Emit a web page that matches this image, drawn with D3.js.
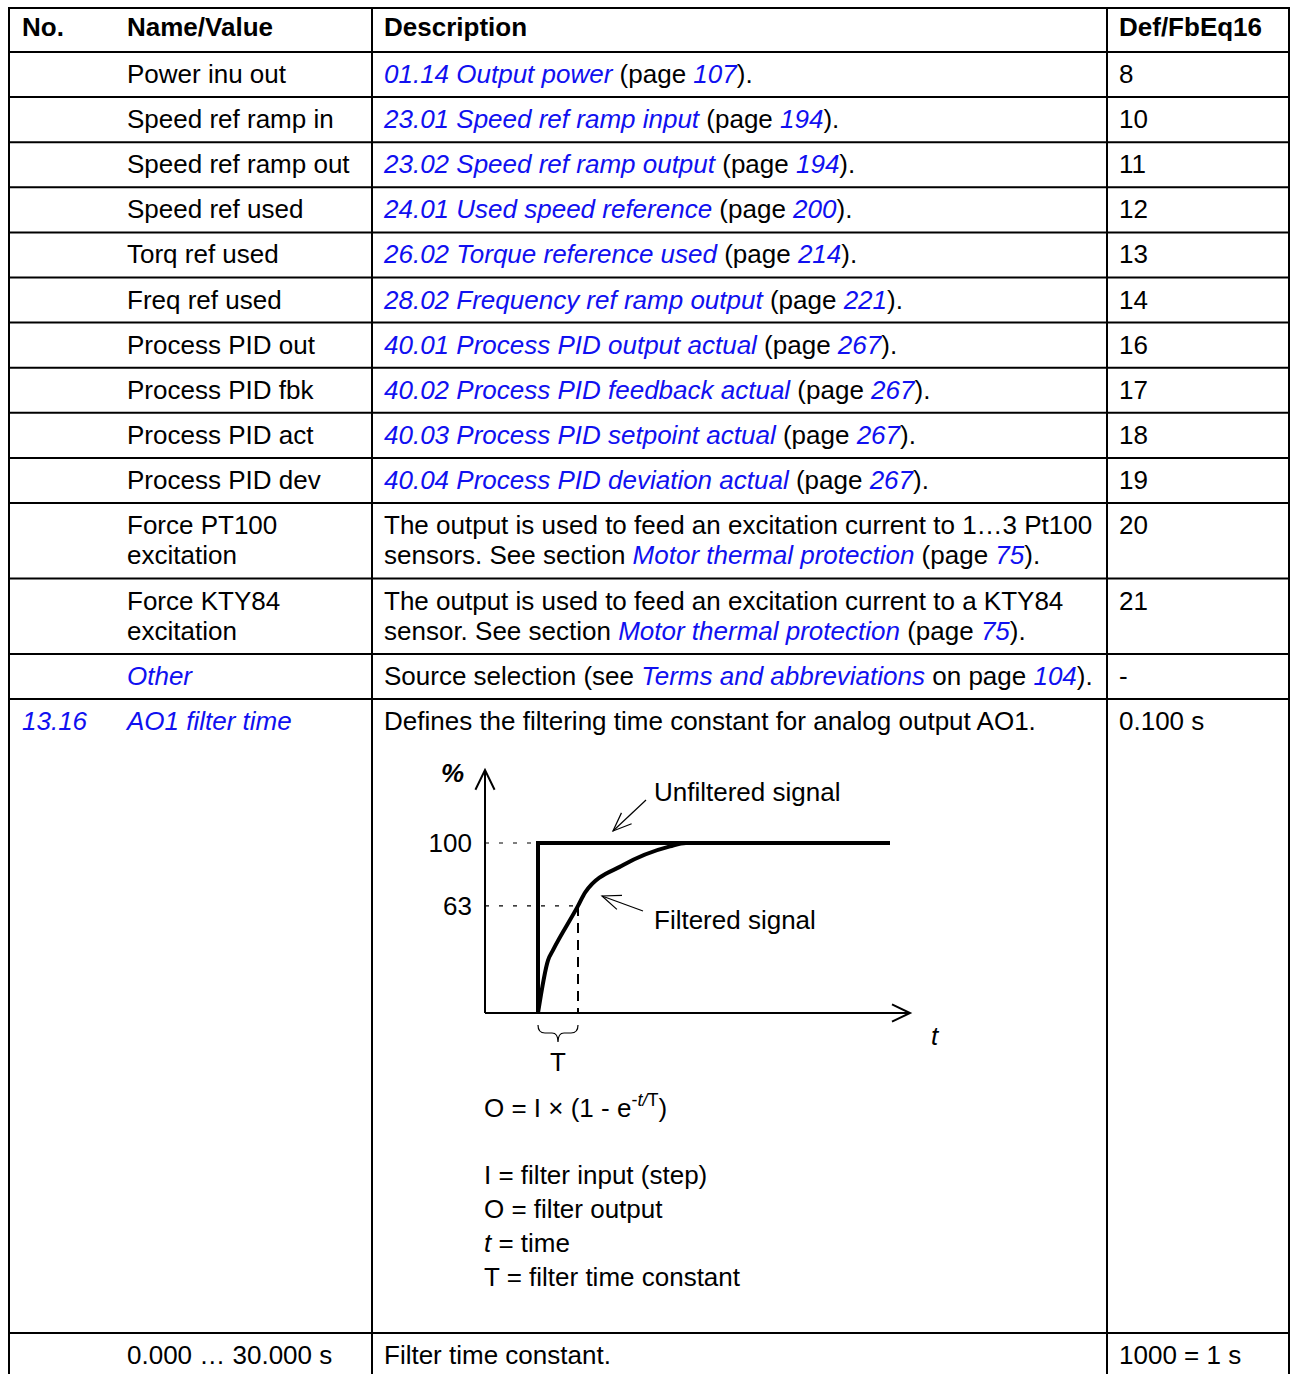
<!DOCTYPE html>
<html lang="en">
<head>
<meta charset="utf-8">
<title>AO1 filter time</title>
<script src="https://cdn.jsdelivr.net/npm/d3@7"></script>
<style>
  body { margin: 0; background: #fff; }
  svg text { font-family: "Liberation Sans", Arial, sans-serif; font-size: 26px; fill: #000; }
  .grid { stroke: #000; stroke-width: 2; }
  .link { fill: #1010f0; font-style: italic; }
</style>
</head>
<body>
<script>
// table content (*...* = blue italic cross reference, | = line break)
var headers = ["No.", "Name/Value", "Description", "Def/FbEq16"];
var numbers = ["", "", "", "", "", "", "", "", "", "", "", "", "", "*13.16*", ""];
var names = ["Power inu out", "Speed ref ramp in", "Speed ref ramp out", "Speed ref used",
  "Torq ref used", "Freq ref used", "Process PID out", "Process PID fbk", "Process PID act",
  "Process PID dev", "Force PT100|excitation", "Force KTY84|excitation", "*Other*",
  "*AO1 filter time*", "0.000 … 30.000 s"];
var descriptions = [
  "*01.14 Output power* (page *107*).",
  "*23.01 Speed ref ramp input* (page *194*).",
  "*23.02 Speed ref ramp output* (page *194*).",
  "*24.01 Used speed reference* (page *200*).",
  "*26.02 Torque reference used* (page *214*).",
  "*28.02 Frequency ref ramp output* (page *221*).",
  "*40.01 Process PID output actual* (page *267*).",
  "*40.02 Process PID feedback actual* (page *267*).",
  "*40.03 Process PID setpoint actual* (page *267*).",
  "*40.04 Process PID deviation actual* (page *267*).",
  "The output is used to feed an excitation current to 1…3 Pt100|sensors. See section *Motor thermal protection* (page *75*).",
  "The output is used to feed an excitation current to a KTY84|sensor. See section *Motor thermal protection* (page *75*).",
  "Source selection (see *Terms and abbreviations* on page *104*).",
  "Defines the filtering time constant for analog output AO1.",
  "Filter time constant."];
var defs = ["8", "10", "11", "12", "13", "14", "16", "17", "18", "19", "20", "21", "-", "0.100 s", "1000 = 1 s"];

// diagram data: time in units of T, output in %
var filteredT   = [0, 0.25, 0.375, 1.0, 1.18, 2.13, 3.3, 3.7, 5.0];
var filteredPct = [0, 31,   37,    63,  71,   87,   98,  100, 100];
var stepT = [0, 0, 8.8];
var stepPct = [0, 100, 100];
var yTicks = [100, 63];
var formulaLines = ["I = filter input (step)", "O = filter output", "_t_ = time", "T = filter time constant"];

var W = 1292, H = 1374;
var colX = [9, 372, 1107, 1289];
var textX = [22, 127, 384, 1119];
var rowH = [45.1, 45.1, 45.1, 45.1, 45.1, 45.1, 45.1, 45.1, 45.1, 45.1, 75.5, 75.5, 45, 634, 60];

var svg = d3.select("body").append("svg").attr("width", W).attr("height", H);

function richText(sel, str, x, y) {
  var lines = str.split("|");
  lines.forEach(function(line, li) {
    var t = sel.append("text").attr("x", x).attr("y", y + li * 30);
    line.split("*").forEach(function(seg, i) {
      if (seg === "") return;
      t.append("tspan").attr("class", i % 2 ? "link" : null).text(seg);
    });
  });
}

// rows
var tops = [8, 52];
rowH.forEach(function(h, i) { tops.push(tops[i + 1] + h); });

// header
headers.forEach(function(h, i) {
  svg.append("text").attr("x", textX[i]).attr("y", 36).attr("font-weight", "bold").text(h);
});

for (var i = 0; i < names.length; i++) {
  var base = tops[i + 1] + 31;
  richText(svg, numbers[i], textX[0], base);
  richText(svg, names[i], textX[1], base);
  richText(svg, descriptions[i], textX[2], base);
  richText(svg, defs[i], textX[3], base);
}

// grid
svg.selectAll(".hline").data(tops.slice(0, tops.length - 1)).enter().append("line")
  .attr("class", "grid").attr("x1", colX[0]).attr("x2", colX[3])
  .attr("y1", function(d) { return d; }).attr("y2", function(d) { return d; });
svg.selectAll(".vline").data(colX).enter().append("line")
  .attr("class", "grid").attr("x1", function(d) { return d; }).attr("x2", function(d) { return d; })
  .attr("y1", 7).attr("y2", H);

// ---- filter diagram ----
var x = d3.scaleLinear().domain([0, 1]).range([538, 578]);
var y = d3.scaleLinear().domain([0, 100]).range([1013, 843]);
var g = svg.append("g");

function arrowHead(tipX, tipY, fromX, fromY, len, ang) {
  var a = Math.atan2(fromY - tipY, fromX - tipX);
  var p1 = [tipX + len * Math.cos(a + ang), tipY + len * Math.sin(a + ang)];
  var p2 = [tipX + len * Math.cos(a - ang), tipY + len * Math.sin(a - ang)];
  return "M" + p1 + "L" + [tipX, tipY] + "L" + p2;
}

var x0 = x.invert(485), xEnd = x.invert(910);
// axes
g.append("line").attr("x1", x(x0)).attr("x2", x(x0)).attr("y1", y(0)).attr("y2", 770)
  .attr("stroke", "#000").attr("stroke-width", 2);
g.append("path").attr("d", arrowHead(x(x0), 770, x(x0), 800, 22, 0.45))
  .attr("fill", "none").attr("stroke", "#000").attr("stroke-width", 2);
g.append("line").attr("x1", x(x0)).attr("x2", x(xEnd)).attr("y1", y(0)).attr("y2", y(0))
  .attr("stroke", "#000").attr("stroke-width", 2);
g.append("path").attr("d", arrowHead(x(xEnd), y(0), x(xEnd) - 30, y(0), 20, 0.45))
  .attr("fill", "none").attr("stroke", "#000").attr("stroke-width", 2);

// guide lines
g.append("line").attr("x1", x(x0)).attr("x2", x(0)).attr("y1", y(100)).attr("y2", y(100))
  .attr("stroke", "#000").attr("stroke-width", 1.2).attr("stroke-dasharray", "4 10");
g.append("line").attr("x1", x(x0)).attr("x2", x(1)).attr("y1", y(63)).attr("y2", y(63))
  .attr("stroke", "#000").attr("stroke-width", 1.2).attr("stroke-dasharray", "4 10");
g.append("line").attr("x1", x(1)).attr("x2", x(1)).attr("y1", y(63)).attr("y2", y(0))
  .attr("stroke", "#000").attr("stroke-width", 2).attr("stroke-dasharray", "10 7");

// signals
var line = d3.line().x(function(d) { return x(d[0]); }).y(function(d) { return y(d[1]); });
g.append("path").attr("d", line(d3.zip(stepT, stepPct)))
  .attr("fill", "none").attr("stroke", "#000").attr("stroke-width", 4);
g.append("path").attr("d", line.curve(d3.curveMonotoneX)(d3.zip(filteredT, filteredPct)))
  .attr("fill", "none").attr("stroke", "#000").attr("stroke-width", 4).attr("stroke-linejoin", "round");

// y tick labels
g.selectAll(".ytick").data(yTicks).enter().append("text")
  .attr("x", 472).attr("y", function(d) { return y(d) + 9; })
  .attr("text-anchor", "end").text(function(d) { return d; });
g.append("text").attr("x", 441).attr("y", 782).attr("font-weight", "bold").attr("font-style", "italic").text("%");
g.append("text").attr("x", 931).attr("y", 1045).attr("font-style", "italic").text("t");

// callouts
g.append("text").attr("x", 654).attr("y", 801).text("Unfiltered signal");
g.append("line").attr("x1", 646).attr("y1", 800).attr("x2", 613).attr("y2", 831).attr("stroke", "#000").attr("stroke-width", 1.2);
g.append("path").attr("d", arrowHead(613, 831, 646, 800, 20, 0.38)).attr("fill", "none").attr("stroke", "#000").attr("stroke-width", 1.2);
g.append("text").attr("x", 654).attr("y", 929).text("Filtered signal");
g.append("line").attr("x1", 643).attr("y1", 911).attr("x2", 602).attr("y2", 896).attr("stroke", "#000").attr("stroke-width", 1.2);
g.append("path").attr("d", arrowHead(602, 896, 643, 911, 20, 0.38)).attr("fill", "none").attr("stroke", "#000").attr("stroke-width", 1.2);

// brace under T
var bx0 = x(0), bx1 = x(1), bm = (bx0 + bx1) / 2;
g.append("path")
  .attr("d", "M" + bx0 + ",1025 Q" + bx0 + ",1033 " + (bx0 + 7) + ",1033 L" + (bm - 6) + ",1033 Q" + bm + ",1033 " + bm + ",1042 Q" + bm + ",1033 " + (bm + 6) + ",1033 L" + (bx1 - 7) + ",1033 Q" + bx1 + ",1033 " + bx1 + ",1025")
  .attr("fill", "none").attr("stroke", "#000").attr("stroke-width", 1.2);
g.append("text").attr("x", bm).attr("y", 1071).attr("text-anchor", "middle").text("T");

// formula
var f = g.append("text").attr("x", 484).attr("y", 1117);
f.append("tspan").text("O = I × (1 - e");
f.append("tspan").attr("dy", -11).attr("font-size", 18).text("-");
f.append("tspan").attr("font-size", 18).attr("font-style", "italic").text("t/");
f.append("tspan").attr("font-size", 18).text("T");
f.append("tspan").attr("dy", 11).text(")");
formulaLines.forEach(function(s, i) {
  var t = g.append("text").attr("x", 484).attr("y", 1184 + i * 34);
  s.split("_").forEach(function(seg, j) {
    if (seg === "") return;
    t.append("tspan").attr("font-style", j % 2 ? "italic" : null).text(seg);
  });
});
</script>
</body>
</html>
